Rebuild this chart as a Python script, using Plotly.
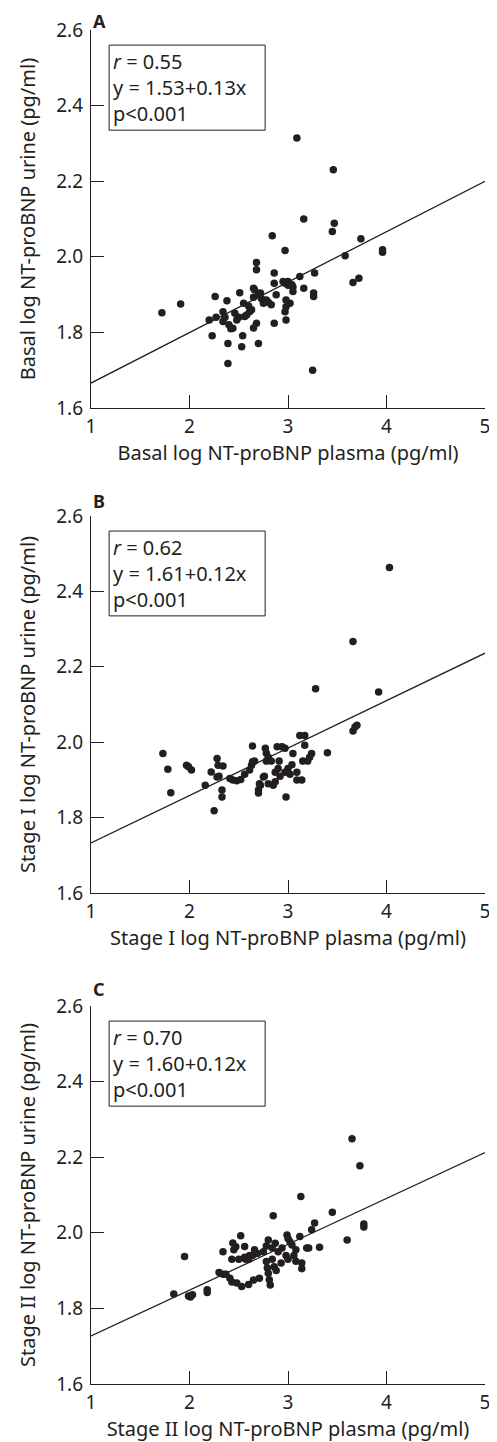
import plotly.graph_objects as go

layout_config = dict(
    text="#231f20",
    background="#ffffff",
    marker="#231f20",
    default_font="Noto Sans",
)

# panel A: basal
a_x = [1.72, 1.91, 2.20, 2.23, 2.26, 2.27, 2.34, 2.34, 2.36, 2.38, 2.39, 2.39, 2.40, 2.42,
       2.44, 2.46, 2.48, 2.50, 2.51, 2.53, 2.54, 2.55, 2.56, 2.58, 2.60, 2.61, 2.63, 2.65,
       2.65, 2.66, 2.65, 2.68, 2.68, 2.68, 2.70, 2.70, 2.72, 2.73, 2.75, 2.78, 2.80, 2.83,
       2.84, 2.86, 2.86, 2.86, 2.88, 2.95, 2.97, 2.97, 2.98, 2.98, 2.97, 2.98, 3.00, 3.00,
       3.02, 3.04, 3.05, 3.05, 3.09, 3.12, 3.16, 3.16, 3.26, 3.26, 3.27, 3.25, 3.45, 3.47,
       3.46, 3.58, 3.66, 3.72, 3.74, 3.96, 3.96]
a_y = [1.852, 1.875, 1.833, 1.791, 1.895, 1.840, 1.855, 1.829, 1.840, 1.884, 1.771, 1.718,
       1.820, 1.810, 1.811, 1.851, 1.833, 1.840, 1.905, 1.762, 1.791, 1.877, 1.842, 1.846,
       1.870, 1.855, 1.860, 1.893, 1.917, 1.913, 1.812, 1.824, 1.985, 1.966, 1.771, 1.900,
       1.904, 1.890, 1.877, 1.886, 1.880, 1.873, 2.056, 1.957, 1.930, 1.824, 1.900, 1.935,
       2.017, 1.930, 1.886, 1.868, 1.855, 1.833, 1.925, 1.935, 1.877, 1.926, 1.908, 1.920,
       2.314, 1.948, 2.100, 1.917, 1.904, 1.895, 1.957, 1.700, 2.067, 2.089, 2.230, 2.003,
       1.932, 1.943, 2.048, 2.019, 2.012]
a_fit_x = [1, 5]
a_fit_y = [1.666, 2.200]

# panel B: stage I
b_x = [1.73, 1.78, 1.81, 1.97, 1.99, 2.02, 2.16, 2.22, 2.25, 2.28, 2.29, 2.28, 2.30, 2.34,
       2.33, 2.33, 2.41, 2.44, 2.48, 2.52, 2.56, 2.61, 2.63, 2.64, 2.64, 2.66, 2.70, 2.70,
       2.72, 2.71, 2.75, 2.76, 2.77, 2.78, 2.78, 2.80, 2.80, 2.83, 2.85, 2.87, 2.87, 2.89,
       2.90, 2.91, 2.92, 2.94, 2.97, 2.97, 2.98, 3.00, 3.02, 3.05, 3.04, 3.09, 3.09, 3.12,
       3.14, 3.15, 3.17, 3.17, 3.20, 3.22, 3.24, 3.28, 3.40, 3.66, 3.68, 3.70, 3.66, 3.92,
       4.03]
b_y = [1.970, 1.928, 1.866, 1.939, 1.935, 1.926, 1.886, 1.921, 1.818, 1.957, 1.939, 1.908,
       1.910, 1.937, 1.873, 1.855, 1.904, 1.900, 1.898, 1.901, 1.915, 1.926, 1.939, 1.948,
       1.990, 1.950, 1.873, 1.865, 1.886, 1.890, 1.908, 1.910, 1.984, 1.971, 1.950, 1.960,
       1.890, 1.950, 1.886, 1.920, 1.895, 1.988, 1.930, 1.950, 1.910, 1.988, 1.984, 1.920,
       1.855, 1.930, 1.915, 1.970, 1.940, 1.920, 1.900, 2.018, 1.900, 1.950, 2.018, 1.992,
       1.950, 1.960, 1.970, 2.142, 1.972, 2.030, 2.040, 2.045, 2.267, 2.133, 2.463]
b_fit_x = [1, 5]
b_fit_y = [1.733, 2.236]

# panel C: stage II
c_x = [1.84, 1.95, 1.99, 2.01, 2.03, 2.18, 2.18, 2.30, 2.34, 2.34, 2.37, 2.41, 2.43, 2.43,
       2.44, 2.45, 2.47, 2.48, 2.50, 2.52, 2.53, 2.56, 2.56, 2.57, 2.60, 2.61, 2.60, 2.64,
       2.65, 2.66, 2.69, 2.71, 2.75, 2.78, 2.78, 2.79, 2.80, 2.80, 2.81, 2.82, 2.84, 2.84,
       2.86, 2.85, 2.87, 2.88, 2.90, 2.93, 2.94, 2.98, 2.99, 3.00, 3.00, 3.02, 3.04, 3.06,
       3.08, 3.08, 3.12, 3.13, 3.14, 3.14, 3.19, 3.21, 3.24, 3.27, 3.32, 3.45, 3.60, 3.65,
       3.73, 3.77, 3.77]
c_y = [1.838, 1.937, 1.833, 1.830, 1.836, 1.849, 1.842, 1.895, 1.950, 1.890, 1.890, 1.880,
       1.870, 1.930, 1.973, 1.955, 1.963, 1.867, 1.930, 1.992, 1.858, 1.964, 1.935, 1.930,
       1.930, 1.940, 1.863, 1.940, 1.875, 1.955, 1.945, 1.880, 1.950, 1.965, 1.924, 1.907,
       1.981, 1.893, 1.876, 1.862, 1.960, 1.930, 1.910, 2.045, 1.972, 1.900, 1.950, 1.920,
       1.960, 1.940, 1.994, 1.985, 1.930, 1.976, 1.968, 1.940, 1.955, 1.925, 1.990, 2.096,
       1.920, 1.905, 1.960, 1.960, 2.008, 2.026, 1.962, 2.054, 1.981, 2.249, 2.177, 2.023,
       2.015]
c_fit_x = [1, 5]
c_fit_y = [1.727, 2.212]

x_ticks = [1, 2, 3, 4, 5]
y_ticks = [1.6, 1.8, 2.0, 2.2, 2.4, 2.6]

panels = [
    dict(letter="A", x=a_x, y=a_y, fit_x=a_fit_x, fit_y=a_fit_y,
         stats=["0.55", "y = 1.53+0.13x", "p<0.001"],
         x_title="Basal log NT-proBNP plasma (pg/ml)",
         y_title="Basal log NT-proBNP urine (pg/ml)",
         domain=[0.7208, 1.0], letter_shift=9),
    dict(letter="B", x=b_x, y=b_y, fit_x=b_fit_x, fit_y=b_fit_y,
         stats=["0.62", "y = 1.61+0.12x", "p<0.001"],
         x_title="Stage I log NT-proBNP plasma (pg/ml)",
         y_title="Stage I log NT-proBNP urine (pg/ml)",
         domain=[0.3626, 0.6411], letter_shift=15),
    dict(letter="C", x=c_x, y=c_y, fit_x=c_fit_x, fit_y=c_fit_y,
         stats=["0.70", "y = 1.60+0.12x", "p<0.001"],
         x_title="Stage II log NT-proBNP plasma (pg/ml)",
         y_title="Stage II log NT-proBNP urine (pg/ml)",
         domain=[0.0, 0.2792], letter_shift=17),
]


def text_font(size):
    return dict(family=layout_config["default_font"], size=size, color=layout_config["text"])


def axis_style(**kwargs):
    base = dict(
        showline=True,
        linecolor=layout_config["text"],
        linewidth=1.3,
        ticks="inside",
        ticklen=13,
        tickwidth=1.3,
        tickcolor=layout_config["text"],
        showgrid=False,
        zeroline=False,
        automargin=False,
        tickfont=text_font(19),
    )
    base.update(kwargs)
    return base


fig = go.Figure()
layout_updates = {}

for i, p in enumerate(panels, start=1):
    xa = "x" if i == 1 else f"x{i}"
    ya = "y" if i == 1 else f"y{i}"
    fig.add_trace(
        go.Scatter(
            x=p["fit_x"], y=p["fit_y"], mode="lines",
            line=dict(color=layout_config["text"], width=1.3),
            xaxis=xa, yaxis=ya, showlegend=False, hoverinfo="skip",
        )
    )
    fig.add_trace(
        go.Scatter(
            x=p["x"], y=p["y"], mode="markers",
            marker=dict(color=layout_config["marker"], size=7.5, line=dict(width=0)),
            xaxis=xa, yaxis=ya, showlegend=False,
        )
    )

    layout_updates[f"xaxis{'' if i == 1 else i}"] = axis_style(
        domain=[0, 1], range=[1, 5], tickvals=x_ticks, anchor=ya, ticklabelstandoff=1,
        title=dict(text=p["x_title"], standoff=0, font=text_font(20)),
    )
    layout_updates[f"yaxis{'' if i == 1 else i}"] = axis_style(
        domain=p["domain"], range=[1.6, 2.6], tickvals=y_ticks, tickformat=".1f", anchor=xa,
        ticklabelstandoff=3,
        title=dict(text=p["y_title"], standoff=15, font=text_font(20)),
    )

    # stats box
    fig.add_shape(
        type="rect", xref=f"{xa} domain", yref=f"{ya} domain",
        x0=0.046, x1=0.442, y0=0.735, y1=0.960,
        line=dict(color=layout_config["text"], width=1), fillcolor="white", layer="above",
    )
    fig.add_annotation(
        xref=f"{xa} domain", yref=f"{ya} domain", x=0.05, y=0.848,
        xanchor="left", yanchor="middle", align="left", showarrow=False,
        text=f"<i>r</i> = {p['stats'][0]}<br>{p['stats'][1]}<br>{p['stats'][2]}",
        font=text_font(20),
    )
    # panel letter
    fig.add_annotation(
        xref=f"{xa} domain", yref=f"{ya} domain", x=0.0, y=1.0, yshift=p["letter_shift"],
        xanchor="left", yanchor="middle", showarrow=False,
        text=f"<b>{p['letter']}</b>", font=text_font(18),
    )

# the page puts the figure 8px in from the top-left corner
fig.update_layout(
    template="none",
    width=489,
    height=1434,
    paper_bgcolor=layout_config["background"],
    plot_bgcolor=layout_config["background"],
    margin=dict(l=83, r=12, t=22, b=58),
    **layout_updates,
)

fig.write_html("out.html")
